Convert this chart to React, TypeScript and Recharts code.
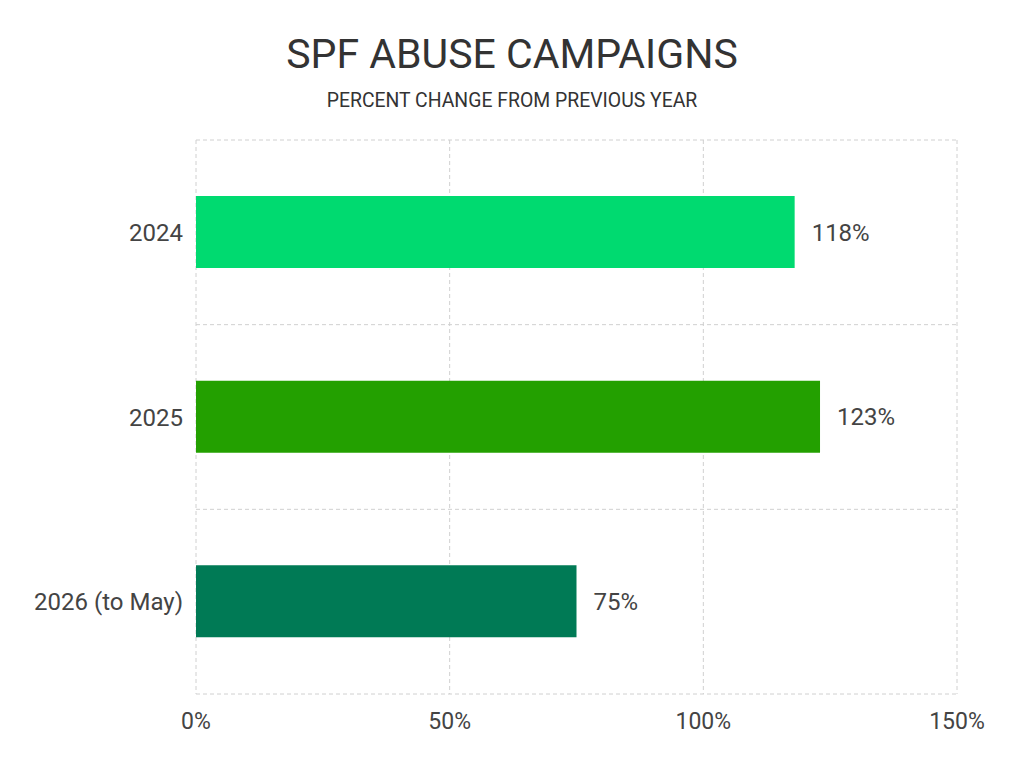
import React from "react";
import { BarChart, Bar, XAxis, YAxis, CartesianGrid, Cell, LabelList } from "recharts";

const categories = ["2024", "2025", "2026 (to May)"];
const values = [118, 123, 75];
const colors = ["#00DA70", "#23A000", "#007A55"];
const xTicks = [0, 50, 100, 150];

const data = categories.map((c, i) => ({ name: c, value: values[i] }));

const FONT = "Roboto, 'Noto Sans', sans-serif";

export default function App() {
  return (
    <div style={{ position: "absolute", left: 0, top: 0, width: 1024, height: 769, background: "#fff", fontFamily: FONT }}>
      <div style={{ position: "absolute", left: 0, top: 28, width: 1024, textAlign: "center", fontSize: 41, color: "#333", lineHeight: "52px" }}>
        SPF ABUSE CAMPAIGNS
      </div>
      <div style={{ position: "absolute", left: 0, top: 89, width: 1024, textAlign: "center", fontSize: 19.4, color: "#333", lineHeight: "24px" }}>
        PERCENT CHANGE FROM PREVIOUS YEAR
      </div>
      <BarChart
        width={1024}
        height={769}
        data={data}
        layout="vertical"
        margin={{ top: 140, right: 67, bottom: 0, left: 0 }}
        style={{ fontFamily: FONT }}
      >
        <CartesianGrid
          stroke="#d0d0d0"
          strokeDasharray="4 3"
          horizontalCoordinatesGenerator={({ offset }: any) => {
            const n = categories.length;
            const out: number[] = [];
            for (let i = 0; i <= n; i++) out.push(offset.top + (i * offset.height) / n);
            return out;
          }}
          verticalCoordinatesGenerator={({ offset }: any) =>
            xTicks.map((t) => offset.left + (t / 150) * offset.width)
          }
        />
        <XAxis
          type="number"
          domain={[0, 150]}
          ticks={xTicks}
          tickFormatter={(v: number) => `${v}%`}
          axisLine={false}
          tickLine={false}
          height={75}
          tickMargin={13}
          tick={{ fontSize: 23, fill: "#444" }}
        />
        <YAxis
          type="category"
          dataKey="name"
          width={196}
          axisLine={false}
          tickLine={false}
          tickMargin={7}
          tick={{ fontSize: 24, fill: "#444" }}
        />
        <Bar dataKey="value" barSize={72} isAnimationActive={false}>
          {data.map((d, i) => (
            <Cell key={d.name} fill={colors[i]} />
          ))}
          <LabelList
            dataKey="value"
            position="right"
            offset={17}
            formatter={(v: number) => `${v}%`}
            style={{ fontSize: 24, fill: "#444" }}
          />
        </Bar>
      </BarChart>
    </div>
  );
}
